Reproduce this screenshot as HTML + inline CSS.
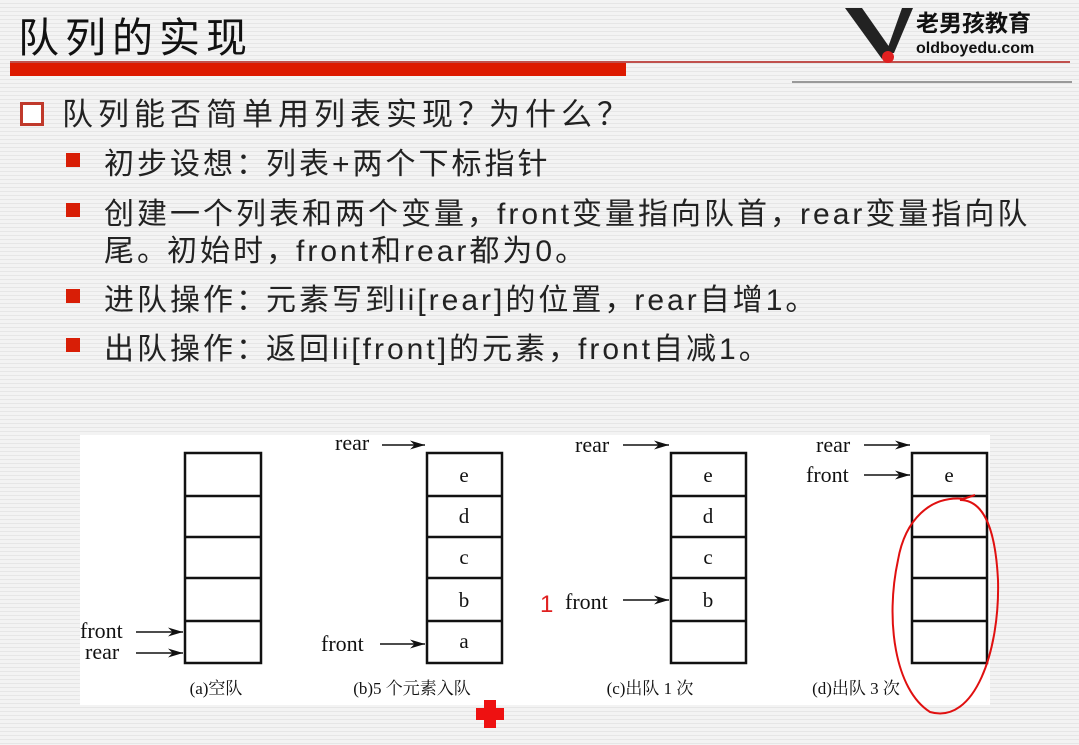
<!DOCTYPE html>
<html><head><meta charset="utf-8"><style>
html,body{margin:0;padding:0}
body{width:1079px;height:745px;position:relative;overflow:hidden;font-family:"Liberation Sans","Noto Sans CJK SC",sans-serif;
background:repeating-linear-gradient(to bottom,#f3f3f3 0,#f3f3f3 3px,#e6e6e6 3px,#e6e6e6 4px);}
.t{position:absolute;white-space:nowrap;color:#222;letter-spacing:3px}
.p{font-family:"Noto Sans CJK SC",sans-serif;display:inline-block;width:1em;text-align:left}
.sq{position:absolute;width:14px;height:14px;background:#d81e06}
</style></head><body>
<div class="t" style="left:18px;top:4px;font-size:41px;color:#111;letter-spacing:6px">队列的实现</div>
<div style="position:absolute;left:10px;top:62px;width:616px;height:14px;background:#dd1a00"></div>
<div style="position:absolute;left:10px;top:61px;width:1060px;height:2px;background:#c0504d"></div>
<div style="position:absolute;left:792px;top:81px;width:280px;height:2px;background:#999"></div>
<svg style="position:absolute;left:840px;top:3px" width="230" height="62">
<polygon points="5,5 22,5 50,45 42,56" fill="#222"/><polygon points="62,5 73,5 54,50 46,50" fill="#222"/>
<circle cx="48" cy="54" r="6" fill="#e02020"/>
<text x="76" y="28" font-size="23" font-weight="bold" font-family="Noto Sans CJK SC,sans-serif" fill="#111">老男孩教育</text>
<text x="76" y="50" font-size="16" font-weight="bold" font-family="Liberation Sans,sans-serif" fill="#111">oldboyedu.com</text>
</svg>
<div style="position:absolute;left:20px;top:102px;width:18px;height:18px;border:3px solid #c0392b;background:#fff"></div>
<div class="t" style="left:62px;top:89px;font-size:31px;letter-spacing:5px">队列能否简单用列表实现<span class="p">？</span>为什么<span class="p">？</span></div>
<div class="sq" style="left:66px;top:153px"></div>
<div class="t" style="left:104px;top:139px;font-size:30px">初步设想<span class="p">：</span>列表+两个下标指针</div>
<div class="sq" style="left:66px;top:203px"></div>
<div class="t" style="left:104px;top:189px;font-size:30px">创建一个列表和两个变量<span class="p">，</span>front变量指向队首<span class="p">，</span>rear变量指向队</div>
<div class="t" style="left:104px;top:226px;font-size:30px">尾<span class="p">。</span>初始时<span class="p">，</span>front和rear都为0<span class="p">。</span></div>
<div class="sq" style="left:66px;top:289px"></div>
<div class="t" style="left:104px;top:275px;font-size:30px">进队操作<span class="p">：</span>元素写到li[rear]的位置<span class="p">，</span>rear自增1<span class="p">。</span></div>
<div class="sq" style="left:66px;top:338px"></div>
<div class="t" style="left:104px;top:324px;font-size:30px">出队操作<span class="p">：</span>返回li[front]的元素<span class="p">，</span>front自减1<span class="p">。</span></div>
<svg style="position:absolute;left:0;top:0" width="1079" height="745" font-family="Liberation Serif,Noto Serif CJK SC,serif">
<defs><marker id="ar" markerWidth="10" markerHeight="6" refX="10" refY="3" orient="auto"><path d="M0,0 L10,3 L0,6 L3,3z" fill="#111"/></marker></defs>
<rect x="80" y="435" width="910" height="270" fill="#fff"/>
<g fill="none" stroke="#111" stroke-width="2.5">
<rect x="185" y="453" width="76" height="210"/><path d="M185 496H261M185 537H261M185 578H261M185 621H261"/>
<rect x="427" y="453" width="75" height="210"/><path d="M427 496H502M427 537H502M427 578H502M427 621H502"/>
<rect x="671" y="453" width="75" height="210"/><path d="M671 496H746M671 537H746M671 578H746M671 621H746"/>
<rect x="912" y="453" width="75" height="210"/><path d="M912 496H987M912 537H987M912 578H987M912 621H987"/>
</g>
<g stroke="#111" stroke-width="1.5" marker-end="url(#ar)">
<line x1="136" y1="632" x2="183" y2="632"/><line x1="136" y1="653" x2="183" y2="653"/>
<line x1="382" y1="445" x2="425" y2="445"/><line x1="380" y1="644" x2="425" y2="644"/>
<line x1="623" y1="445" x2="669" y2="445"/><line x1="623" y1="600" x2="669" y2="600"/>
<line x1="864" y1="445" x2="910" y2="445"/><line x1="864" y1="475" x2="910" y2="475"/>
</g>
<g font-size="22" fill="#111">
<text x="80" y="638">front</text><text x="85" y="659">rear</text>
<text x="335" y="450">rear</text><text x="321" y="651">front</text>
<text x="575" y="452">rear</text><text x="565" y="609">front</text>
<text x="816" y="452">rear</text><text x="806" y="482">front</text>
</g>
<g font-size="21" fill="#111" text-anchor="middle">
<text x="464" y="482">e</text><text x="464" y="523">d</text><text x="464" y="564">c</text><text x="464" y="607">b</text><text x="464" y="648">a</text>
<text x="708" y="482">e</text><text x="708" y="523">d</text><text x="708" y="564">c</text><text x="708" y="607">b</text>
<text x="949" y="482">e</text>
</g>
<g font-size="17" fill="#111" text-anchor="middle">
<text x="216" y="694">(a)空队</text><text x="412" y="694">(b)5 个元素入队</text>
<text x="650" y="694">(c)出队 1 次</text><text x="856" y="694">(d)出队 3 次</text>
</g>
<text x="540" y="612" font-size="24" fill="#e02020" font-family="Liberation Sans,sans-serif">1</text>
<path d="M965 499 C930 495 905 520 898 560 C885 620 895 690 930 712 C975 725 1000 650 998 580 C995 520 980 500 960 500 L975 495" fill="none" stroke="#e01010" stroke-width="2"/>
<path d="M484 700h12v8h8v12h-8v8h-12v-8h-8v-12h8z" fill="#ee1111"/>
</svg>
</body></html>
